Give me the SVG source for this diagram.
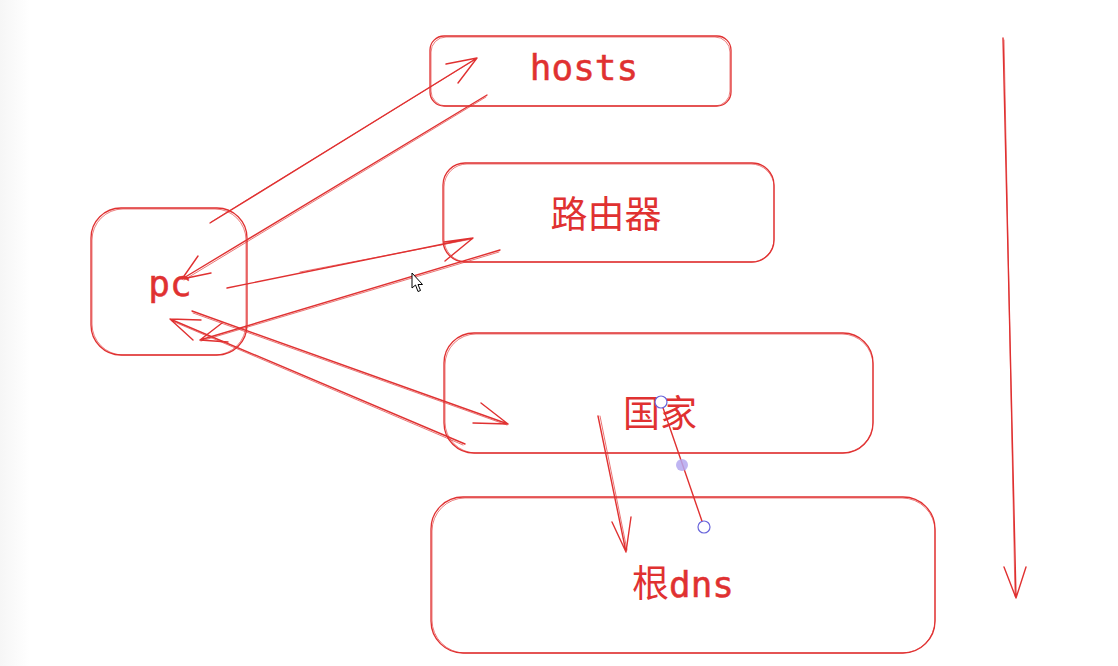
<svg xmlns="http://www.w3.org/2000/svg" width="1118" height="666" viewBox="0 0 1118 666">
<defs>
<linearGradient id="edge" x1="0" y1="0" x2="1" y2="0">
<stop offset="0" stop-color="#f6f6f6"/>
<stop offset="1" stop-color="#ffffff"/>
</linearGradient>
</defs>
<style>
.box{fill:none;stroke:#e03131;stroke-width:1.3}
.box2{fill:none;stroke:#e03131;stroke-width:0.9;opacity:0.7}
.ln{fill:none;stroke:#e03131;stroke-width:1.4;stroke-linecap:round;stroke-linejoin:round}
.ln2{fill:none;stroke:#e03131;stroke-width:0.9;stroke-linecap:round;opacity:0.75}
.lbl{fill:#e03131;stroke:#e03131;stroke-width:0.5;font-family:"DejaVu Sans Mono","Liberation Mono","Noto Sans CJK SC",monospace;font-size:36px;text-anchor:middle}
.cjk{fill:#e03131;font-family:"Noto Sans CJK SC","DejaVu Sans",sans-serif;font-size:37px;text-anchor:middle}
.h{fill:#ffffff;stroke:#6965db;stroke-width:1.2}
</style>
<rect x="0" y="0" width="1118" height="666" fill="#ffffff"/>
<rect x="0" y="0" width="30" height="666" fill="url(#edge)"/>

<g id="hosts">
<rect class="box" x="430" y="36" width="301" height="70" rx="14"/>
<rect class="box2" x="431" y="37" width="299" height="69" rx="15"/>
<text class="lbl" x="584" y="80">hosts</text>
</g>

<g id="router">
<rect class="box" x="443" y="163" width="331" height="99" rx="22"/>
<rect class="box2" x="444" y="164" width="330" height="98" rx="23"/>
<text class="cjk" x="606" y="228">路由器</text>
</g>

<g id="pc">
<rect class="box" x="91" y="208" width="156" height="147" rx="30"/>
<rect class="box2" x="92" y="209" width="154" height="146" rx="31"/>
<text class="lbl" x="170" y="296">pc</text>
</g>

<g id="country">
<rect class="box" x="444" y="333" width="429" height="120" rx="30"/>
<rect class="box2" x="445" y="334" width="428" height="119" rx="31"/>
<text class="cjk" x="660" y="427">国家</text>
</g>

<g id="rootdns">
<rect class="box" x="431" y="497" width="504" height="156" rx="32"/>
<rect class="box2" x="432" y="498" width="503" height="155" rx="33"/>
<text x="683" y="597" style="fill:#e03131;font-size:37px;text-anchor:middle"><tspan style="font-family:'Noto Sans CJK SC',sans-serif">根</tspan><tspan style="font-family:'DejaVu Sans Mono',monospace;font-size:36px;stroke:#e03131;stroke-width:0.5">dns</tspan></text>
</g>

<g id="connectors">
<path class="ln" d="M210 223 L477 58 M446 64 L477 58 L458 83"/>
<path class="ln2" d="M211 222 L476 59"/>
<path class="ln" d="M487 95 L182 279 M198 256 L182 279 L211 273"/>
<path class="ln2" d="M486 97 L184 280"/>
<path class="ln" d="M227 288 L473 238 M444 242 L473 238 L445 261"/>
<path class="ln2" d="M300 272 L472 239"/>
<path class="ln" d="M500 250 L200 340 M222 323 L200 340 L228 342"/>
<path class="ln2" d="M499 252 L201 341"/>
<path class="ln" d="M192 311 L508 424 M481 403 L508 424 L473 423"/>
<path class="ln2" d="M193 313 L507 425"/>
<path class="ln" d="M465 444 L170 319 M201 320 L170 319 L193 340"/>
<path class="ln2" d="M463 445 L172 321"/>
<path class="ln" d="M598 416 L626 552 M612 522 L626 552 L631 517"/>
<path class="ln2" d="M600 416 L627 550"/>
<path class="ln" d="M661 402 L704 527"/>
<circle class="h" cx="661" cy="402" r="6"/>
<circle class="h" cx="704" cy="527" r="6"/>
<circle cx="682" cy="465" r="6" fill="#b4a8f0" opacity="0.85"/>
<path class="ln" d="M1003 38 L1016 598 M1004 567 L1016 598 L1026 567"/>
<path class="ln2" d="M1004 40 L1015 596"/>
</g>

<polygon points="412,273 412,288 415.5,285 418,291.5 420.5,290.5 418,284.5 422.5,284.5" fill="#ffffff" stroke="#000000" stroke-width="1"/>
</svg>
